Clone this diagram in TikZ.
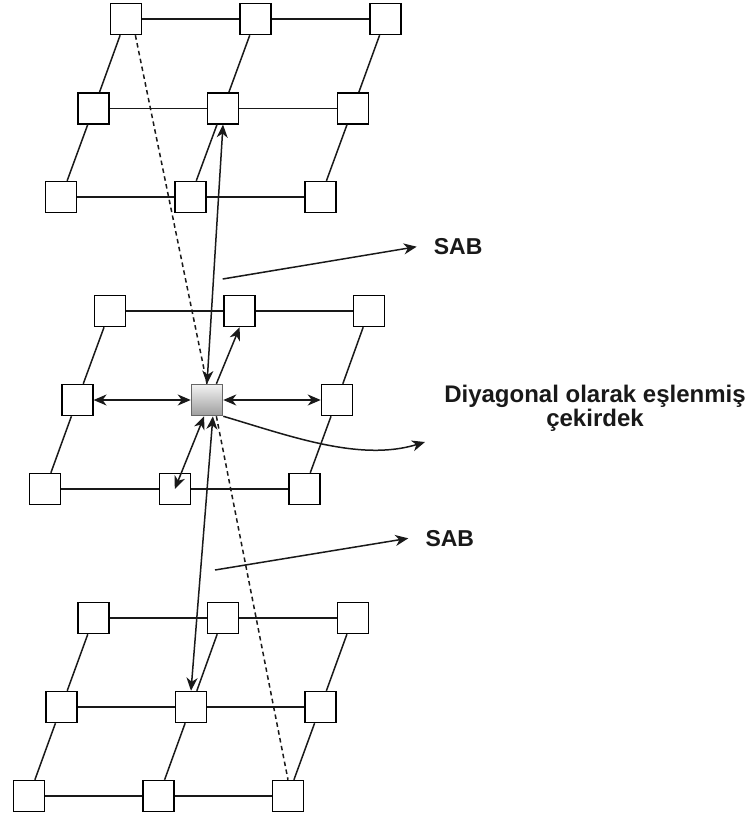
\documentclass[tikz,border=0pt]{standalone}
\usepackage{fontspec}
\setmainfont{Liberation Sans}
\usetikzlibrary{arrows.meta,calc}

\begin{document}
\begin{tikzpicture}[x=1pt,y=-1pt,
  cell/.style={draw=black,line width=1.5pt,fill=white,minimum size=31pt,inner sep=0pt},
  core/.style={draw=black!60,line width=1.5pt,minimum size=31pt,inner sep=0pt,
    top color=black!5,bottom color=black!38},
  link/.style={draw=black!90,line width=1.5pt},
  arr/.style={link,-{Stealth[length=13pt,width=11pt,inset=4pt]}},
  darr/.style={link,{Stealth[length=13pt,width=11pt,inset=4pt]}-{Stealth[length=13pt,width=11pt,inset=4pt]}},
  dashline/.style={draw=black!90,line width=1.5pt,dash pattern=on 4.5pt off 3.5pt},
  lbl/.style={font=\fontsize{23}{24}\selectfont\bfseries,text=black!90}]

\useasboundingbox (0,0) rectangle (750,820);

% upper grid
\node[cell] (t11) at (126,19) {};
\node[cell] (t12) at (255.7,19) {};
\node[cell] (t13) at (385.5,19) {};
\node[cell] (t21) at (93.7,108.3) {};
\node[cell] (t22) at (223,108.3) {};
\node[cell] (t23) at (353,108.3) {};
\node[cell] (t31) at (61.2,197) {};
\node[cell] (t32) at (190.3,197) {};
\node[cell] (t33) at (320.5,197) {};

% middle grid with the core in its centre
\node[cell] (m11) at (110,311) {};
\node[cell] (m12) at (239.7,311) {};
\node[cell] (m13) at (369,311) {};
\node[cell] (m21) at (77.3,400) {};
\node[core] (c)   at (207,400) {};
\node[cell] (m23) at (337,400) {};
\node[cell] (m31) at (45,489) {};
\node[cell] (m32) at (174.8,489) {};
\node[cell] (m33) at (304.3,489) {};

% lower grid
\node[cell] (b11) at (93.7,618) {};
\node[cell] (b12) at (223,618) {};
\node[cell] (b13) at (352.8,618) {};
\node[cell] (b21) at (61.3,707) {};
\node[cell] (b22) at (191,707) {};
\node[cell] (b23) at (320.5,707) {};
\node[cell] (b31) at (29,796) {};
\node[cell] (b32) at (158.7,796) {};
\node[cell] (b33) at (288,796) {};

% grid links
\foreach \g in {t,b}{
  \draw[link] (\g11) -- (\g12) -- (\g13);
  \draw[link] (\g21) -- (\g22) -- (\g23);
  \draw[link] (\g31) -- (\g32) -- (\g33);
  \draw[link] (\g11) -- (\g21) -- (\g31);
  \draw[link] (\g12) -- (\g22) -- (\g32);
  \draw[link] (\g13) -- (\g23) -- (\g33);
}
\draw[link] (m11) -- (m12) -- (m13);
\draw[link] (m31) -- (m32) -- (m33);
\draw[link] (m11) -- (m21) -- (m31);
\draw[link] (m13) -- (m23) -- (m33);

% links of the core
\draw[darr] (m21) -- (c);
\draw[darr] (c) -- (m23);
\draw[arr] (c.60) -- (m12.south);
\draw[darr] (c.260) -- (m32.center);
\draw[darr] (c.north) -- (t22.south);
\draw[darr] (c.290) -- (b22.north);
\draw[dashline] (t11.300) -- (c.north);
\draw[dashline] (c.300) -- (b33.north);

% labels
\node[lbl,anchor=west,inner xsep=17pt,inner ysep=0pt] (sab1) at (416.7,246.7) {SAB};
\node[lbl,anchor=west,inner xsep=17pt,inner ysep=0pt] (sab2) at (408.3,538.3) {SAB};
\coordinate (s1) at (222.7,279);
\coordinate (s2) at (215,570);
\draw[arr] (s1) -- (sab1.west);
\draw[arr] (s2) -- (sab2.west);

\node[lbl,font=\fontsize{24}{24}\selectfont\bfseries,align=center,anchor=base] (diag) at (595,426.7) {Diyagonal olarak eşlenmiş\\çekirdek};
\coordinate (dtip) at (425,442);
\draw[arr] (c.south east) .. controls (290,436) and (360,462) .. (dtip);

\end{tikzpicture}
\end{document}
